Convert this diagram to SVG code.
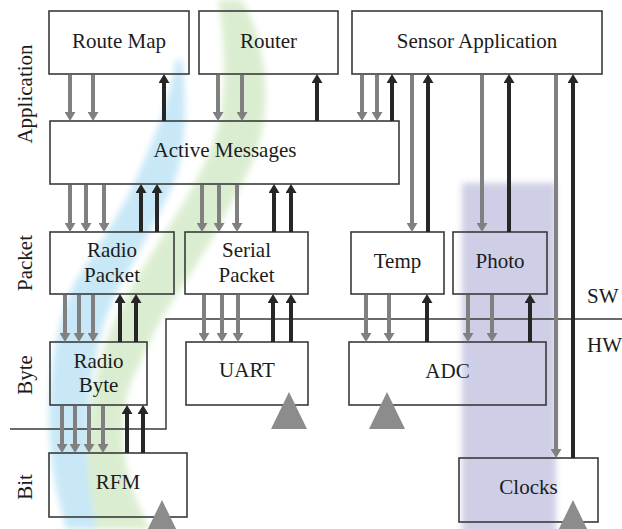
<svg xmlns="http://www.w3.org/2000/svg" width="622" height="529" viewBox="0 0 622 529">
  <defs>
    <filter id="soft" x="-10%" y="-10%" width="120%" height="120%">
      <feGaussianBlur stdDeviation="3"/>
    </filter>
    <marker id="headG" viewBox="0 0 9 11" refX="0" refY="5.5" markerWidth="9" markerHeight="11" markerUnits="userSpaceOnUse" orient="auto">
      <path d="M0,0 L9,5.5 L0,11 z" fill="#808080"/>
    </marker>
    <marker id="headK" viewBox="0 0 9 11" refX="0" refY="5.5" markerWidth="9" markerHeight="11" markerUnits="userSpaceOnUse" orient="auto">
      <path d="M0,0 L9,5.5 L0,11 z" fill="#262626"/>
    </marker>
  </defs>
  <style>
    .box { fill: none; stroke: #3a3a3a; stroke-width: 1.6; }
    text { font-family: 'Liberation Serif', 'DejaVu Serif', serif; font-size: 21px; fill: #1c1c1c; }
    .lbl { text-anchor: middle; }
    .g { stroke: #808080; stroke-width: 4; fill: none; marker-end: url(#headG); }
    .k { stroke: #262626; stroke-width: 4; fill: none; marker-end: url(#headK); }
    .tri { fill: #8c8c8c; }
    .div { fill: none; stroke: #3a3a3a; stroke-width: 1.5; }
  </style>

  <rect width="622" height="529" fill="#ffffff"/>

  <!-- background watermark shapes -->
  <g id="background" filter="url(#soft)" opacity="0.85">
    <path d="M176,60 C170,95 160,125 140,170 C125,205 100,245 76,280 C58,315 49,370 49,420 C49,460 58,500 66,529 L104,529 C94,495 86,460 88,420 C90,370 102,320 118,290 C137,255 160,215 175,180 C185,150 188,110 182,60 Z" fill="#bfe4f6"/>
    <path d="M218,0 C225,40 226,90 220,120 C212,150 200,180 160,240 C135,280 117,310 105,345 C92,385 85,430 88,470 C90,495 94,515 97,529 L150,529 C138,505 125,475 123,440 C122,410 128,385 137,370 C148,345 160,320 167,310 C190,275 213,240 225,215 C245,180 262,150 265,110 C268,70 260,30 242,0 Z" fill="#d5ebc9"/>
    <rect x="462" y="183" width="94" height="350" fill="#c6c6e2"/>
  </g>

  <!-- side labels -->
  <g id="layer-labels">
    <text class="lbl" transform="translate(32,94) rotate(-90)">Application</text>
    <text class="lbl" transform="translate(32,263) rotate(-90)">Packet</text>
    <text class="lbl" transform="translate(32,375) rotate(-90)">Byte</text>
    <text class="lbl" transform="translate(32,487) rotate(-90)">Bit</text>
    <text x="587" y="303">SW</text>
    <text x="587" y="352">HW</text>
  </g>

  <!-- SW/HW divider -->
  <polyline id="sw-hw-divider" class="div" points="622,319 166,319 166,429 10,429"/>

  <!-- nodes -->
  <g id="route-map"><rect class="box" x="49" y="11" width="140" height="63"/><text class="lbl" x="119" y="48">Route Map</text></g>
  <g id="router"><rect class="box" x="199" y="11" width="139" height="63"/><text class="lbl" x="268.5" y="48">Router</text></g>
  <g id="sensor-application"><rect class="box" x="352" y="11" width="250" height="63"/><text class="lbl" x="477" y="48">Sensor Application</text></g>
  <g id="active-messages"><rect class="box" x="50" y="121" width="349" height="63"/><text class="lbl" x="225" y="157">Active Messages</text></g>
  <g id="radio-packet"><rect class="box" x="50" y="232" width="124" height="62"/><text class="lbl" x="112" y="257">Radio</text><text class="lbl" x="112" y="282">Packet</text></g>
  <g id="serial-packet"><rect class="box" x="185" y="232" width="123" height="62"/><text class="lbl" x="246.5" y="257">Serial</text><text class="lbl" x="246.5" y="282">Packet</text></g>
  <g id="temp"><rect class="box" x="351" y="232" width="93" height="62"/><text class="lbl" x="397.5" y="268">Temp</text></g>
  <g id="photo"><rect class="box" x="453" y="232" width="94" height="62"/><text class="lbl" x="500" y="268">Photo</text></g>
  <g id="radio-byte"><rect class="box" x="50" y="342" width="97" height="63"/><text class="lbl" x="98.5" y="368">Radio</text><text class="lbl" x="98.5" y="392">Byte</text></g>
  <g id="uart"><rect class="box" x="186" y="342" width="122" height="63"/><text class="lbl" x="247" y="377">UART</text></g>
  <g id="adc"><rect class="box" x="349" y="342" width="197" height="63"/><text class="lbl" x="447.5" y="378">ADC</text></g>
  <g id="rfm"><rect class="box" x="49" y="453" width="138" height="64"/><text class="lbl" x="118" y="489">RFM</text></g>
  <g id="clocks"><rect class="box" x="459" y="458" width="139" height="64"/><text class="lbl" x="528.5" y="494">Clocks</text></g>

  <!-- hardware triangles -->
  <g id="hw-triangles">
    <polygon class="tri" points="289,392 271,429 307,429"/>
    <polygon class="tri" points="387,392 369,429 405,429"/>
    <polygon class="tri" points="162,500 144,537 180,537"/>
    <polygon class="tri" points="573,500 555,537 591,537"/>
  </g>

  <!-- connectors -->
  <g id="connectors">
    <line class="g" x1="70" y1="75" x2="70" y2="112"/>
    <line class="g" x1="93" y1="75" x2="93" y2="112"/>
    <line class="k" x1="164" y1="121" x2="164" y2="83"/>
    <line class="g" x1="218" y1="75" x2="218" y2="112"/>
    <line class="g" x1="242" y1="75" x2="242" y2="112"/>
    <line class="k" x1="317" y1="121" x2="317" y2="83"/>
    <line class="g" x1="362" y1="75" x2="362" y2="112"/>
    <line class="g" x1="377" y1="75" x2="377" y2="112"/>
    <line class="k" x1="392" y1="121" x2="392" y2="83"/>
    <line class="g" x1="412" y1="75" x2="412" y2="223"/>
    <line class="k" x1="428" y1="232" x2="428" y2="83"/>
    <line class="g" x1="482" y1="75" x2="482" y2="223"/>
    <line class="k" x1="509" y1="232" x2="509" y2="83"/>
    <line class="g" x1="556" y1="75" x2="556" y2="449"/>
    <line class="k" x1="573" y1="458" x2="573" y2="83"/>
    <line class="g" x1="70" y1="185" x2="70" y2="223"/>
    <line class="g" x1="86" y1="185" x2="86" y2="223"/>
    <line class="g" x1="104" y1="185" x2="104" y2="223"/>
    <line class="k" x1="141" y1="232" x2="141" y2="193"/>
    <line class="k" x1="157" y1="232" x2="157" y2="193"/>
    <line class="g" x1="202" y1="185" x2="202" y2="223"/>
    <line class="g" x1="219" y1="185" x2="219" y2="223"/>
    <line class="g" x1="237" y1="185" x2="237" y2="223"/>
    <line class="k" x1="274" y1="232" x2="274" y2="193"/>
    <line class="k" x1="291" y1="232" x2="291" y2="193"/>
    <line class="g" x1="65" y1="295" x2="65" y2="333"/>
    <line class="g" x1="79" y1="295" x2="79" y2="333"/>
    <line class="g" x1="93" y1="295" x2="93" y2="333"/>
    <line class="k" x1="120" y1="342" x2="120" y2="303"/>
    <line class="k" x1="136" y1="342" x2="136" y2="303"/>
    <line class="g" x1="204" y1="295" x2="204" y2="333"/>
    <line class="g" x1="222" y1="295" x2="222" y2="333"/>
    <line class="g" x1="238" y1="295" x2="238" y2="333"/>
    <line class="k" x1="273" y1="342" x2="273" y2="303"/>
    <line class="k" x1="291" y1="342" x2="291" y2="303"/>
    <line class="g" x1="366" y1="295" x2="366" y2="333"/>
    <line class="g" x1="389" y1="295" x2="389" y2="333"/>
    <line class="k" x1="427" y1="342" x2="427" y2="303"/>
    <line class="g" x1="468" y1="295" x2="468" y2="333"/>
    <line class="g" x1="492" y1="295" x2="492" y2="333"/>
    <line class="k" x1="530" y1="342" x2="530" y2="303"/>
    <line class="g" x1="62" y1="406" x2="62" y2="444"/>
    <line class="g" x1="75" y1="406" x2="75" y2="444"/>
    <line class="g" x1="89" y1="406" x2="89" y2="444"/>
    <line class="g" x1="103" y1="406" x2="103" y2="444"/>
    <line class="k" x1="127" y1="453" x2="127" y2="414"/>
    <line class="k" x1="143" y1="453" x2="143" y2="414"/>
  </g>
</svg>
